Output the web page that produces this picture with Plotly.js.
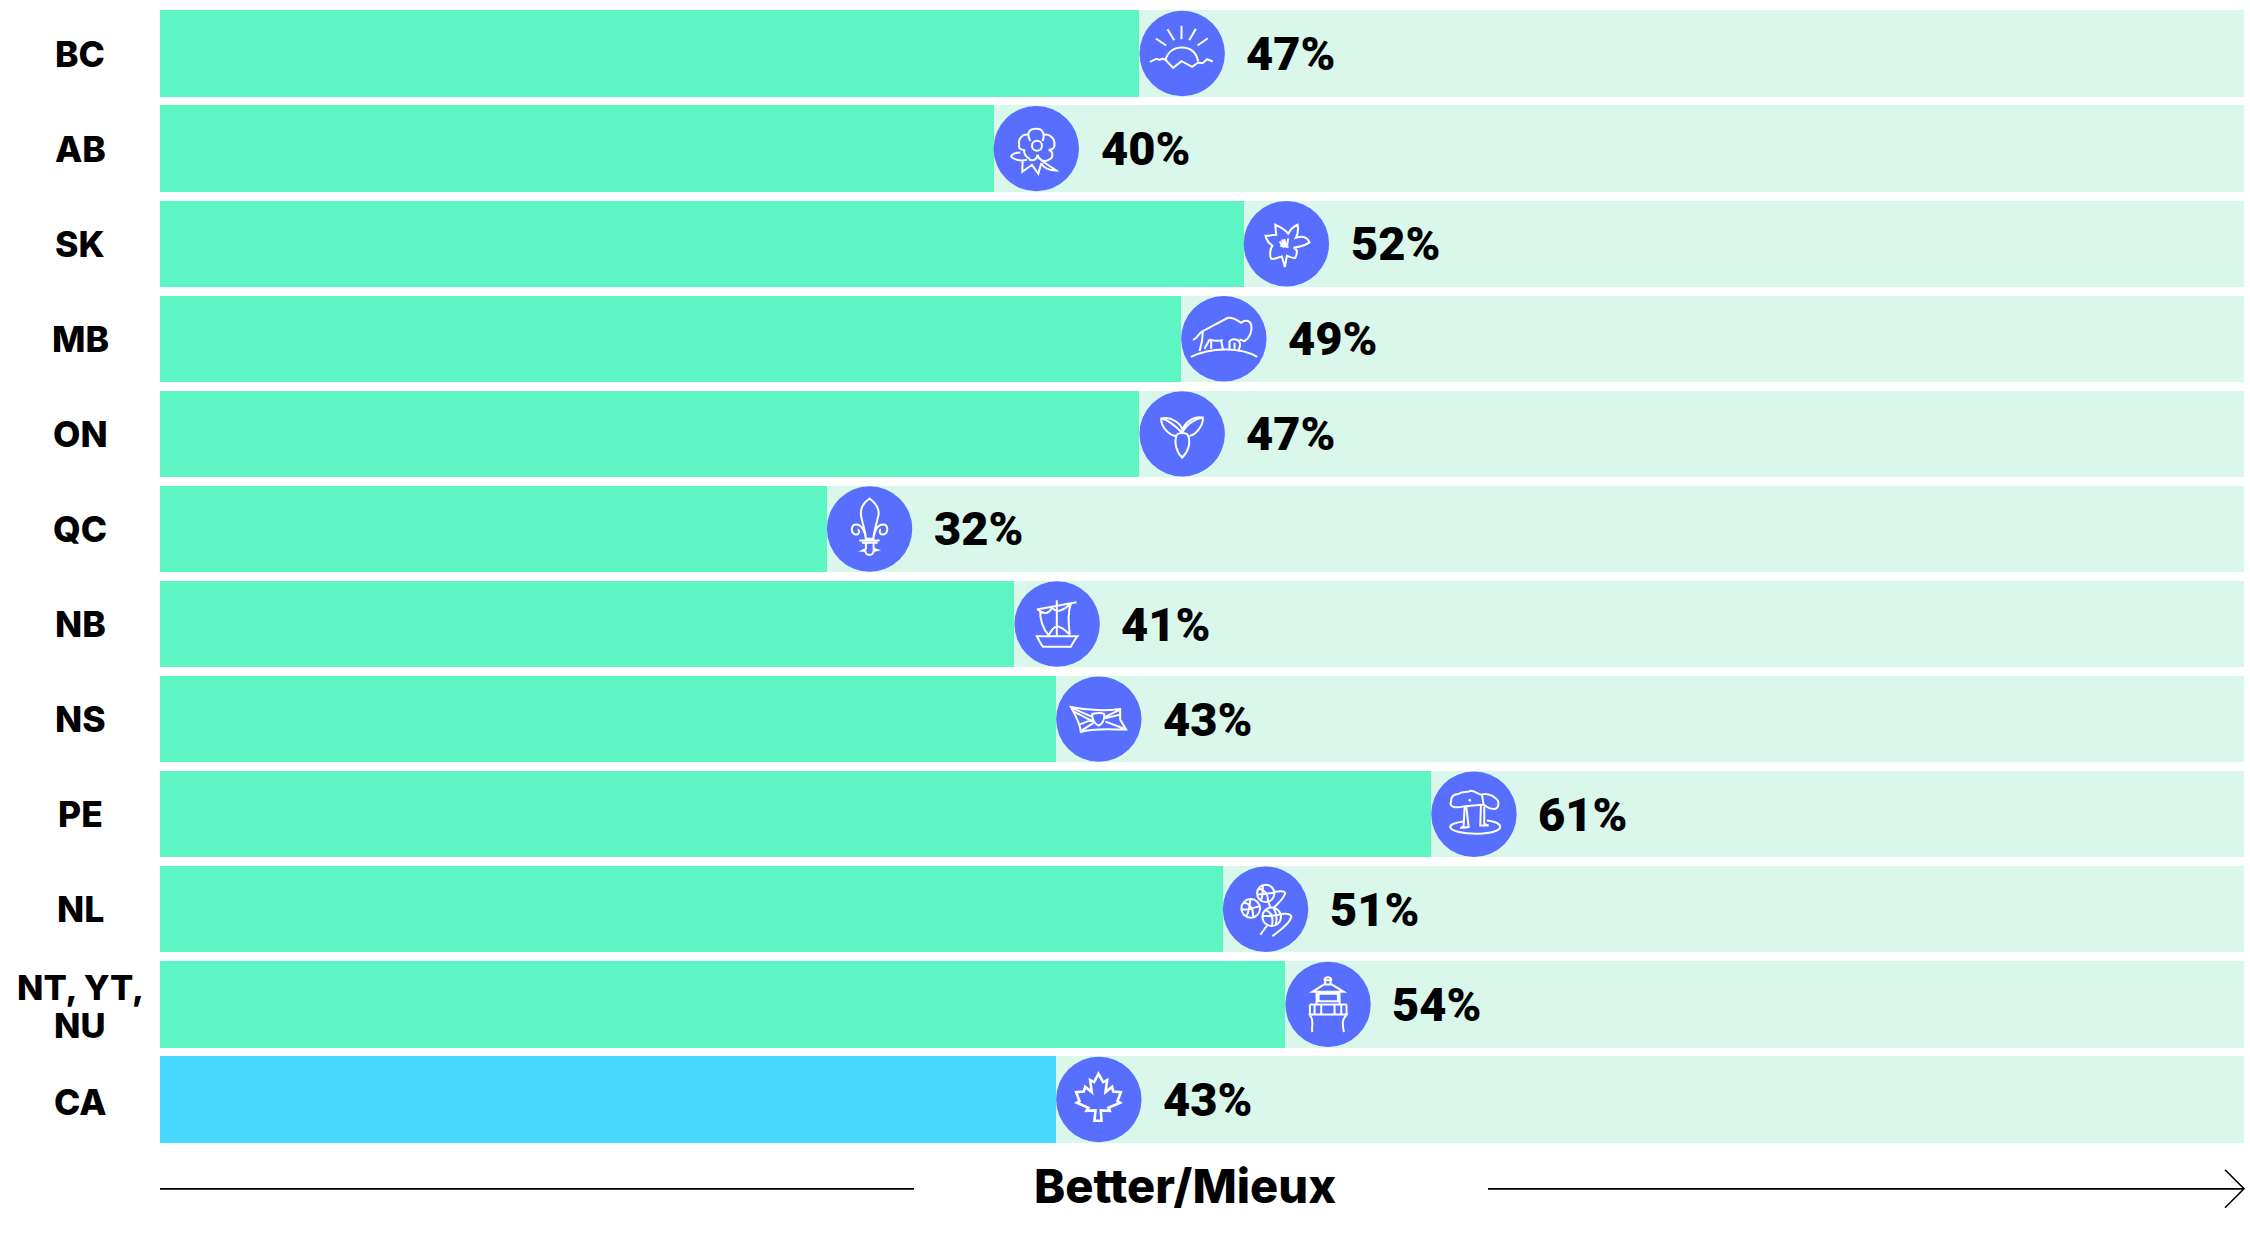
<!DOCTYPE html>
<html><head><meta charset="utf-8">
<script src="https://cdn.plot.ly/plotly-3.0.1.min.js"></script>
<style>html,body{margin:0;padding:0;background:#fff}#c{width:2250px;height:1259px}</style>
</head><body><div id="c"></div>
<script>
const categories = ['BC','AB','SK','MB','ON','QC','NB','NS','PE','NL','NT, YT,<br>NU','CA'];
const values = [47,40,52,49,47,32,41,43,61,51,54,43];
const totalScale = 100;
const axisCaption = 'Better/Mieux';

const colBar = '#5DF5C3', colCa = '#48D7FF', colTrack = '#DAF7EB', colDisc = '#576EFF';
const FONT = 'Inter, "Noto Sans", sans-serif';
const PCT_FONT = 'Roboto, Inter, sans-serif';
const circ = (x,y,r)=>{const k=r*0.5523;return `M${x-r},${y} C${x-r},${y-k} ${x-k},${y-r} ${x},${y-r} C${x+k},${y-r} ${x+r},${y-k} ${x+r},${y} C${x+r},${y+k} ${x+k},${y+r} ${x},${y+r} C${x-k},${y+r} ${x-r},${y+k} ${x-r},${y} Z`;};

// white line-art emblems, traced on a 3x grid around each disc centre
const icons = [
 {c:[395,161],w:2,p:'M316,116 L347,137 M351,88 L371,121 M393,78 L393,118 M436,87 L416,121 M472,115 L441,137 M345,180 C352,155 372,143 394,143 C416,143 436,155 443,184 M298,186 L318,177 L328,180 L336,176 L345,180 L368,204 L393,184 L425,201 L443,188 L456,190 L470,178 L487,185'},
 {c:[168,146.5],w:2,p:'M150,124 C140,105 142,88 165,87 C185,84 195,100 187,124 '+circ(170,138,15)+' M190,105 C210,100 225,120 222,132 C225,145 215,150 205,150 M145,105 C125,100 112,120 117,135 C112,148 125,150 135,152 M205,150 C220,155 220,175 205,180 C190,188 175,180 172,165 C168,185 150,185 145,175 C135,170 128,155 133,150 M120,158 C105,158 92,165 92,170 C100,180 120,185 140,180 M127,180 L126,216 L155,195 L174,222 L183,190 M183,182 L228,212 C205,212 190,205 183,190'},
 {c:[918.5,432],w:2,p:'M888,405 L885,375 C900,382 915,390 924,402 C930,390 940,380 952,375 C955,390 952,405 947,414 C965,408 980,410 988,428 C970,440 955,442 940,444 C955,448 950,465 945,475 C935,475 925,470 920,468 L914,502 L905,470 C895,472 880,482 872,476 C868,462 868,450 877,438 C865,430 858,418 856,408 C870,408 880,405 888,405 Z M912,444 L898,425 M915,442 L905,420 M918,442 L912,418 M920,442 L924,416 M900,438 L925,442'},
 {c:[223,148],w:2,p:'M124,202 C180,175 270,170 323,202 M130,150 C142,152 148,128 160,125 L235,85 C255,82 265,95 275,100 C285,90 300,92 305,105 C310,125 300,145 285,155 L270,150 M160,125 C160,145 155,170 150,185 M180,150 L165,178 M180,150 C190,155 205,155 220,152 M185,155 L185,178 M215,155 L220,178 M240,155 C250,145 270,148 272,165 L268,182 M240,155 L240,178 M255,160 L255,178'},
 {c:[96,434],w:2,p:'M95,430 C75,410 50,390 33,388 C32,410 55,440 78,440 M95,430 C110,405 135,388 158,385 C160,410 135,438 118,440 M80,436 C70,460 80,490 96,505 C112,490 125,460 112,436 C105,430 88,430 80,436 M33,388 C65,380 95,405 97,425 M97,425 C100,405 125,380 158,385'},
 {c:[178,148.5],w:2,p:'M178,57 C160,70 150,85 152,105 C155,130 165,150 167,178 L189,178 C192,150 200,130 205,105 C207,85 195,70 178,57 Z M167,178 C165,160 155,135 138,135 C122,135 120,160 135,165 C148,168 150,152 142,150 M189,178 C192,160 200,135 218,135 C235,135 235,160 220,165 C208,168 205,152 212,150 M147,183 L208,183 M155,190 L202,190 M167,192 L167,208 L155,214 L165,215 C168,230 188,230 190,215 L202,212 L190,208 L190,192'},
 {c:[737,433.5],w:2,p:'M736,362 L736,470 M676,470 L798,470 C790,480 785,490 778,502 L695,502 C688,495 682,480 676,470 Z M676,390 L795,368 M680,390 C695,405 710,405 722,385 C735,400 755,395 778,372 M686,392 C685,420 695,450 712,467 M778,372 C768,400 770,430 775,465 M712,467 C720,450 730,442 736,440 C750,442 765,455 775,465'},
 {c:[866,718.5],w:2,p:'M782,682 C820,690 880,695 930,688 L930,720 L948,750 C900,750 850,745 812,757 C810,730 795,705 782,682 Z M785,685 L846,712 M790,695 L848,725 M815,752 L850,730 M808,735 L845,720 M885,712 L930,690 M886,726 L945,748 M885,716 L930,705 M846,703 C860,700 870,698 882,703 C885,720 875,735 866,738 C855,735 845,720 846,703 Z'},
 {c:[161,148.5],w:2,p:'M130,170 C100,175 88,180 90,188 C95,200 130,207 165,207 C205,207 240,200 240,185 C238,175 215,168 200,167 M133,125 L130,185 L120,190 L145,187 L138,125 M182,120 L180,182 L205,182 L192,178 L192,125 M130,125 C105,132 85,125 92,112 C92,95 100,88 115,88 C125,78 145,85 150,78 C165,78 175,90 185,90 C195,85 215,90 225,100 C240,110 235,130 225,132 C210,137 200,125 190,120 C170,120 150,125 130,125 Z M185,90 L190,120 M145,105 L152,108'},
 {c:[165.5,149.5],w:2,p:circ(166,102,26)+' '+circ(121,147,28)+' '+circ(184,172,28)+' M145,87 C165,92 175,108 172,128 M158,77 C155,95 160,115 150,122 M142,105 C155,103 180,102 192,100 M100,130 C115,130 130,145 128,170 M120,120 C118,140 115,160 108,170 M94,150 C110,150 135,145 148,140 M165,152 C180,155 190,172 185,198 M190,145 C200,165 200,185 195,198 M157,170 C175,170 195,168 211,165 M190,97 C205,95 225,92 224,103 C218,120 200,135 190,145 M204,165 C215,162 242,160 243,172 C238,195 205,215 186,230 M170,198 L150,226 M175,130 L180,145'},
 {c:[350.5,434.5],w:2,p:'M340,362 C340,350 360,350 360,362 Z M342,362 L342,378 M358,362 L358,378 M303,397 L338,375 L362,375 L398,397 Z M316,397 L316,435 M385,397 L385,435 M322,403 L380,403 L380,425 L322,425 Z M296,435 L406,435 M296,435 L296,465 M406,435 L406,465 M292,465 L410,465 M310,435 L310,465 M330,435 L330,465 M370,435 L370,465 M390,435 L390,465 M296,468 C310,480 300,500 303,518 M405,468 C390,480 395,500 398,518'},
 {c:[176,150],w:2.6,p:'M175,73 L189,98 L201,92 L196,128 L216,112 L219,126 L242,128 L232,155 L240,160 L205,175 L209,184 L182,183 L184,214 L163,214 L166,183 L139,184 L145,175 L110,160 L118,155 L108,128 L131,126 L135,112 L155,128 L150,92 L162,98 Z'}
];
function place(path,[cx,cy]){
  return path.replace(/(-?[\d.]+),(-?[\d.]+)/g,(m,x,y)=>`${((x-cx)/3+42.7).toFixed(2)},${(-(y-cy)/3).toFixed(2)}`);
}

// plot-area geometry
const W=2250,H=1259,L=160,R=2244,T=6.1,B=1147.2;
const px=x=>(x-L)/(R-L), py=y=>(B-y)/(B-T);

const shapes=[];
categories.forEach((cat,i)=>{
  shapes.push({type:'circle',xref:'x',yref:'y',xsizemode:'pixel',ysizemode:'pixel',xanchor:values[i],yanchor:i,
    x0:0,x1:85.4,y0:-42.7,y1:42.7,fillcolor:colDisc,line:{width:0}});
  shapes.push({type:'path',xref:'x',yref:'y',xsizemode:'pixel',ysizemode:'pixel',xanchor:values[i],yanchor:i,
    path:place(icons[i].p,icons[i].c),fillcolor:'rgba(0,0,0,0)',line:{color:'#ffffff',width:icons[i].w}});
});
const rule={color:'#000000',width:1.8};
shapes.push({type:'line',xref:'paper',yref:'paper',x0:0,x1:px(914),y0:py(1189),y1:py(1189),line:rule});
shapes.push({type:'line',xref:'paper',yref:'paper',x0:px(1488),x1:1,y0:py(1189),y1:py(1189),line:rule});
shapes.push({type:'path',xref:'paper',yref:'paper',xsizemode:'pixel',ysizemode:'pixel',xanchor:1,yanchor:py(1189),
  path:'M-19,19 L0,0 L-19,-19',fillcolor:'rgba(0,0,0,0)',line:{color:'#000000',width:1.6}});

const annotations=[];
categories.forEach((cat,i)=>{
  annotations.push({xref:'x',yref:'y',x:values[i],y:i,xanchor:'left',yanchor:'middle',xshift:105,yshift:0,
    text:values[i]+'%',showarrow:false,font:{family:PCT_FONT,size:47,weight:900,color:'#000'}});
  const lines=cat.split('<br>');
  const shifts=lines.length>1?[16.8,-21.5]:[cat==='CA'?-3:-0.6];
  const size=lines.length>1?34.5:35.5;
  lines.forEach((t,j)=>annotations.push({xref:'paper',yref:'y',x:px(80),y:i,xanchor:'center',yanchor:'middle',yshift:shifts[j],
    text:t,showarrow:false,font:{family:FONT,size:size,weight:800,color:'#000'}}));
});
annotations.push({xref:'paper',yref:'paper',x:px(1185),y:py(1186),xanchor:'center',yanchor:'middle',
  text:axisCaption,showarrow:false,font:{family:FONT,size:47,weight:800,color:'#000'}});

const traces=[
 {type:'bar',orientation:'h',y:categories,x:values,marker:{color:categories.map(c=>c==='CA'?colCa:colBar),line:{width:0}},hoverinfo:'skip'},
 {type:'bar',orientation:'h',y:categories,x:values.map(v=>totalScale-v),marker:{color:colTrack,line:{width:0}},hoverinfo:'skip'}
];
const layout={width:W,height:H,margin:{l:L,r:W-R,t:T,b:H-B,pad:0},paper_bgcolor:'#fff',plot_bgcolor:'#fff',
  barmode:'stack',bargap:0.0914,showlegend:false,
  xaxis:{range:[0,totalScale],visible:false,fixedrange:true},
  yaxis:{type:'category',categoryorder:'array',categoryarray:categories,autorange:false,range:[11.5,-0.5],visible:false,fixedrange:true},
  shapes,annotations};
Plotly.newPlot('c',traces,layout,{displayModeBar:false,staticPlot:true});
</script></body></html>
